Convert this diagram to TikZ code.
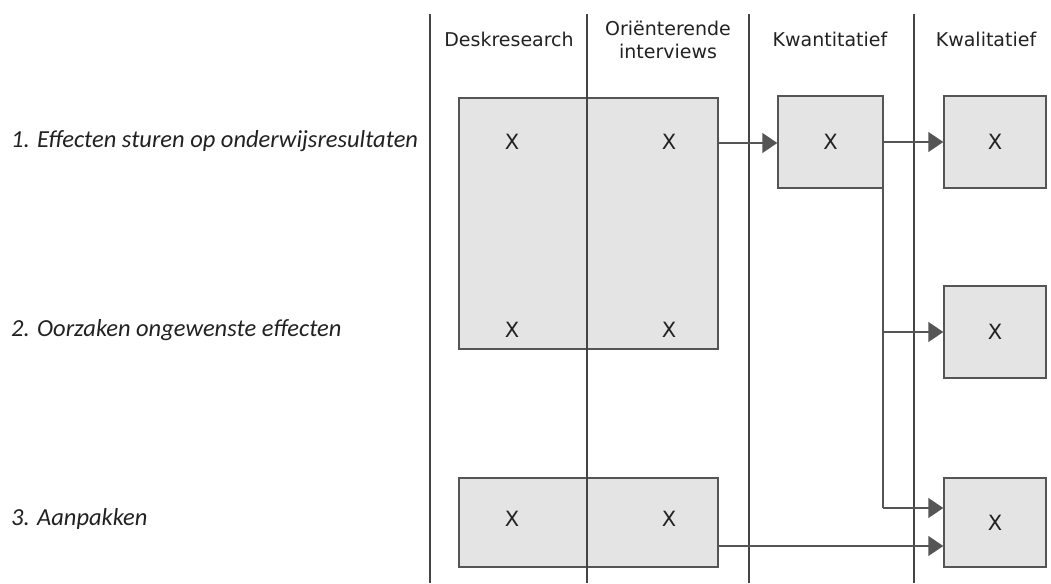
\documentclass[tikz,border=0pt]{standalone}
\usepackage{fontspec}
\setmainfont{DejaVu Sans}
\newfontfamily\rowfont{Carlito}
\usetikzlibrary{arrows.meta}
\definecolor{boxfill}{HTML}{E4E4E4}
\definecolor{boxline}{HTML}{555555}
\definecolor{colline}{HTML}{444444}
\definecolor{txt}{HTML}{222222}
\tikzset{
  cell/.style={draw=boxline, fill=boxfill, line width=1.5pt},
  colsep/.style={draw=colline, line width=1.4pt},
  conn/.style={draw=boxline, line width=1.5pt, -{Triangle[length=15pt,width=20pt]}},
  link/.style={draw=boxline, line width=1.5pt},
  hdr/.style={font=\fontsize{19}{23}\selectfont, text=txt, align=center, inner sep=0pt},
  xmark/.style={font=\fontsize{21}{24}\selectfont, text=txt, inner sep=0pt},
  rowlab/.style={font=\rowfont\itshape\fontsize{24.5}{28}\selectfont, text=txt, anchor=west, inner sep=0pt},
}
\begin{document}
\begin{tikzpicture}[x=1pt,y=-1pt]
\path[use as bounding box, fill=white] (0,0) rectangle (1051,583);
% boxes
\path[cell] (459,98) rectangle (718,349);
\path[cell] (459,478) rectangle (718,567);
\node[cell, minimum width=105pt, minimum height=92pt, inner sep=0pt] (kw) at (830.5,142) {};
\node[cell, minimum width=102pt, minimum height=92pt, inner sep=0pt] (q1) at (995,142) {};
\node[cell, minimum width=102pt, minimum height=92pt, inner sep=0pt] (q2) at (995,332) {};
\node[cell, minimum width=102pt, minimum height=89pt, inner sep=0pt] (q3) at (995,522.5) {};
% column separators
\draw[colsep] (430,14) -- (430,583);
\draw[colsep] (587,14) -- (587,583);
\draw[colsep] (749,14) -- (749,583);
\draw[colsep] (914,14) -- (914,583);
% headers
\node[hdr] (h1) at (509,39) {Deskresearch};
\node[hdr] (h2) at (668,40) {Oriënterende\\interviews};
\node[hdr] (h3) at (830,39) {Kwantitatief};
\node[hdr] (h4) at (986,39) {Kwalitatief};
% marks
\node[xmark] (d1) at (512,142) {X};
\node[xmark] (o1) at (669,142) {X};
\node[xmark] (d2) at (512,330) {X};
\node[xmark] (o2) at (669,330) {X};
\node[xmark] (d3) at (512,519) {X};
\node[xmark] (o3) at (669,519) {X};
\node[xmark] at (kw) {X};
\node[xmark] at (q1) {X};
\node[xmark] at (q2) {X};
\node[xmark] at (q3) {X};
% row labels
\node[rowlab] (r1) at (11,141) {1. Effecten sturen op onderwijsresultaten};
\node[rowlab] (r2) at (11,330) {2. Oorzaken ongewenste effecten};
\node[rowlab] (r3) at (11,519) {3. Aanpakken};
% connectors
\coordinate (bigR) at (718,143);
\coordinate (lowR) at (718,546);
\coordinate (split) at (883,332);
\coordinate (bend) at (883,508);
\draw[conn] (bigR) -- (kw.west |- bigR);
\draw[conn] (kw.east |- q1.west) -- (q1.west);
\draw[link] (kw.south -| bend) -- (bend);
\draw[conn] (bend) -- (q3.west |- bend);
\draw[conn] (split) -- (q2.west);
\draw[conn] (lowR) -- (q3.west |- lowR);
\end{tikzpicture}
\end{document}
